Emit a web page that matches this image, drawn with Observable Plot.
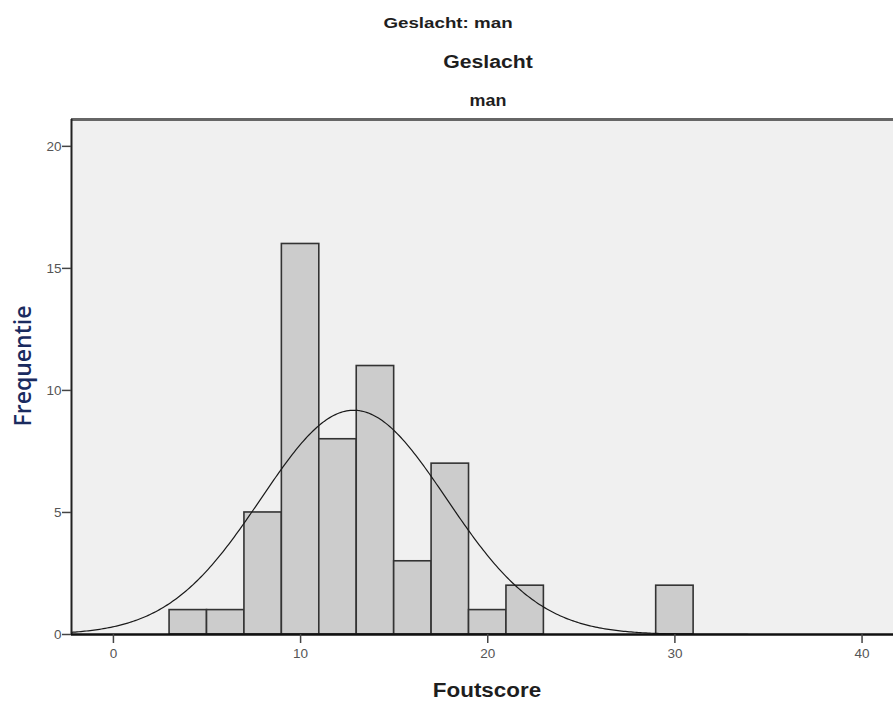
<!DOCTYPE html>
<html><head><meta charset="utf-8">
<script src="https://cdn.jsdelivr.net/npm/d3@7"></script>
<script src="https://cdn.jsdelivr.net/npm/@observablehq/plot@0.6"></script>
<style>
body{margin:0;background:#fff;}
#wrap{position:relative;width:893px;height:702px;overflow:hidden;font-family:"Liberation Sans",Arial,sans-serif;}
.t{position:absolute;white-space:nowrap;font-weight:bold;color:#1e1e1e;line-height:1;}
#ylab{position:absolute;left:22px;top:366px;transform:translate(-50%,-50%) rotate(-90deg);font-family:"Open Sans",sans-serif;font-weight:600;font-size:23px;color:#1a2b5f;white-space:nowrap;line-height:1;}
#chart{position:absolute;left:0;top:0;}
</style></head><body>
<div id="wrap">
  <div id="chart"></div>
  <div class="t" style="left:448px;top:22px;font-size:15px;transform:translate(-50%,-50%) scaleX(1.25)">Geslacht: man</div>
  <div class="t" style="left:488px;top:62px;font-size:18px;transform:translate(-50%,-50%) scaleX(1.18)">Geslacht</div>
  <div class="t" style="left:488px;top:101px;font-size:16px;transform:translate(-50%,-50%) scaleX(1.12)">man</div>
  <div class="t" style="left:487px;top:690px;font-size:20px;transform:translate(-50%,-50%) scaleX(1.12)">Foutscore</div>
  <div id="ylab">Frequentie</div>
</div>
<script>
// Histogram bins (Foutscore), bin width 2
const binStart = [3, 5, 7, 9, 11, 13, 15, 17, 19, 21, 29];
const binWidth = 2;
const counts = [1, 1, 5, 16, 8, 11, 3, 7, 1, 2, 2];
// Fitted normal curve parameters
const mean = 12.84;
const sd = 4.95;
const N = 57;
const xTicks = [0, 10, 20, 30, 40];
const yTicks = [0, 5, 10, 15, 20];
const xDomain = [-2.24, 41.68];
const yDomain = [0, 21.1];

const bins = binStart.map((s, i) => ({x1: s, x2: s + binWidth, y: counts[i]}));
const curve = d3.range(xDomain[0], xDomain[1] + 0.01, 0.1).map(x => ({
  x, y: N * binWidth * Math.exp(-0.5 * ((x - mean) / sd) ** 2) / (sd * Math.sqrt(2 * Math.PI))
}));

const chart = Plot.plot({
  width: 893, height: 702,
  marginTop: 119, marginBottom: 68, marginLeft: 71, marginRight: 0,
  style: {fontFamily: "'Liberation Sans', Arial, sans-serif", background: "transparent"},
  x: {domain: xDomain},
  y: {domain: yDomain},
  marks: [
    Plot.frame({fill: "#f0f0f0", stroke: null}),
    Plot.rectY(bins, {x1: "x1", x2: "x2", y: "y", fill: "#cccccc", stroke: "#333", strokeWidth: 1.6, inset: 0}),
    Plot.line(curve, {x: "x", y: "y", stroke: "#1a1a1a", strokeWidth: 1.2}),
    Plot.ruleY([yDomain[1]], {stroke: "#666", strokeWidth: 3}),
    Plot.ruleX([xDomain[0]], {stroke: "#222", strokeWidth: 2}),
    Plot.ruleY([0], {stroke: "#111", strokeWidth: 2.5}),
    Plot.axisY({ticks: yTicks, tickSize: 9, tickPadding: 1, fontSize: 13.5, color: "#555", stroke: "#444", strokeWidth: 1.5, label: null}),
    Plot.axisX({ticks: xTicks, tickSize: 9, tickPadding: 5, fontSize: 13.5, color: "#555", stroke: "#444", strokeWidth: 1.5, label: null})
  ]
});
document.getElementById("chart").appendChild(chart);
</script>
</body></html>
